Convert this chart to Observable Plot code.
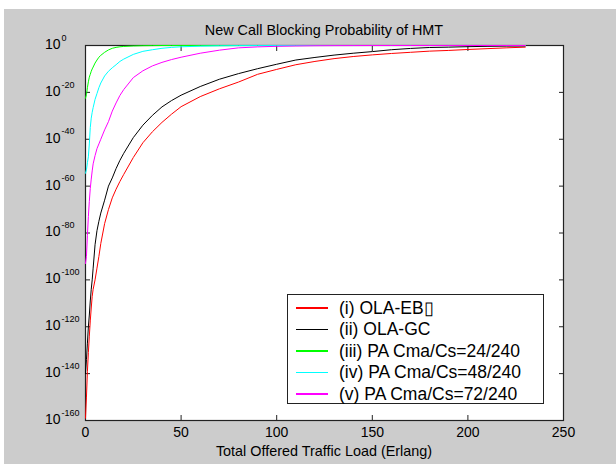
<!DOCTYPE html>
<html>
<head>
<meta charset="utf-8">
<script src="https://cdn.jsdelivr.net/npm/d3@7"></script>
<script src="https://cdn.jsdelivr.net/npm/@observablehq/plot@0.6"></script>
<style>
html, body { margin: 0; padding: 0; background: #ffffff; }
#fig { position: relative; width: 616px; height: 464px; overflow: hidden; font-family: "Liberation Sans", Arial, sans-serif; color: #000; }
#bg { position: absolute; left: 4px; top: 9px; right: 0; bottom: 0; background: #cccccc; }
#chart { position: absolute; left: 0; top: 0; }
#title, #xlabel { position: absolute; left: 85px; width: 478px; text-align: center; font-size: 14.4px; line-height: 14.4px; white-space: nowrap; }
#title { top: 23.4px; }
#xlabel { top: 443.8px; }
#legend { position: absolute; left: 287px; top: 294px; width: 257px; height: 110px; box-sizing: border-box; border: 1px solid #222; background: #fff; }
.entry { position: absolute; left: 0; height: 20px; width: 255px; }
.swatch { position: absolute; left: 8px; width: 32px; height: 1.5px; top: 9.5px; }
.ltext { position: absolute; left: 51px; top: 0; font-size: 17.5px; line-height: 20px; white-space: nowrap; }
</style>
</head>
<body>
<div id="fig">
  <div id="bg"></div>
  <div id="chart"></div>
  <div id="title"></div>
  <div id="xlabel"></div>
  <div id="legend"></div>
</div>
<script>
// ---- data (log10 of blocking probability) ----
const titleText = "New Call Blocking Probability of HMT";
const xLabelText = "Total Offered Traffic Load (Erlang)";
const seriesNames = ["(i) OLA-EB\u25AF", "(ii) OLA-GC", "(iii) PA Cma/Cs=24/240", "(iv) PA Cma/Cs=48/240", "(v) PA Cma/Cs=72/240"];
const seriesColors = ["#ff0000", "#000000", "#00ff00", "#00ffff", "#ff00ff"];
const xTicks = [0, 50, 100, 150, 200, 250];
const yTickExponents = [0, -20, -40, -60, -80, -100, -120, -140, -160];

const load = [0, 0.5, 1, 1.5, 2, 2.5, 3, 3.5, 4, 5, 6, 7, 8, 10, 12, 14, 16, 18, 20, 25, 30, 35, 40, 45, 50, 60, 70, 80, 90, 100, 110, 120, 130, 140, 150, 160, 170, 180, 190, 200, 210, 220, 230];

const logOlaEb = [-159, -150, -139, -131, -124, -117.5, -112, -107, -104, -100, -95, -90, -84.5, -76, -70, -65, -61.3, -58, -55, -47.8, -41.5, -36.8, -32.8, -29.3, -26.1, -21.8, -18.5, -15.6, -12.3, -10.2, -8.2, -6.8, -5.6, -4.7, -4.0, -3.4, -2.9, -2.4, -2.1, -1.7, -1.35, -1.0, -0.7];
const logOlaGc = [-140, -134, -127, -120, -115, -109, -104, -100, -95, -85, -79, -75, -71.5, -66, -60, -56.5, -52.5, -49, -46, -39.3, -34, -29.8, -26.2, -23.5, -21.2, -17.5, -14.4, -12, -9.9, -8, -6.2, -5.1, -4.1, -3.3, -2.6, -1.8, -1.25, -0.85, -0.7, -0.5, -0.35, -0.25, -0.2];
const logPa24 = [-22.5, -21, -18, -15.5, -13.5, -12.3, -11, -10, -9.2, -7.5, -6.2, -5, -4.2, -2.9, -1.9, -1.2, -0.8, -0.55, -0.4, -0.2, -0.1, -0.05, 0, 0, 0, 0, 0, 0, 0, 0, 0, 0, 0, 0, 0, 0, 0, 0, 0, 0, 0, 0, 0];
const logPa48 = [-54.5, -53, -50, -47.5, -42, -35, -31, -28.5, -26.5, -23, -20.5, -18, -16, -13, -11, -9.5, -8.2, -6.8, -5.8, -3.8, -2.5, -1.8, -1.2, -0.8, -0.55, -0.3, -0.15, -0.07, -0.03, 0, 0, 0, 0, 0, 0, 0, 0, 0, 0, 0, 0, 0, 0];
const logPa72 = [-93, -90, -81, -73, -66.5, -61, -57, -53.5, -50.5, -47, -44, -42, -40, -36, -32.5, -28, -24.5, -21.3, -18.8, -13.7, -10.8, -8.7, -7.2, -6, -5, -3.3, -2.0, -1.0, -0.6, -0.35, -0.2, -0.1, -0.05, -0.03, 0, 0, 0, 0, 0, 0, 0, 0, 0];

const seriesLogs = [logOlaEb, logOlaGc, logPa24, logPa48, logPa72];

// ---- build table ----
const rows = [];
seriesNames.forEach((name, si) => {
  load.forEach((x, i) => rows.push({series: name, load: x, p: Math.pow(10, seriesLogs[si][i])}));
});
const yTicks = yTickExponents.map(e => Math.pow(10, e));
const expOf = d => String(Math.round(Math.log10(d)));

const chart = Plot.plot({
  width: 616,
  height: 464,
  marginLeft: 85,
  marginRight: 53,
  marginTop: 45,
  marginBottom: 44,
  style: {background: "transparent", fontFamily: "'Liberation Sans', Arial, sans-serif", color: "#000", overflow: "visible"},
  x: {domain: [0, 250]},
  y: {type: "log", domain: [1e-160, 1]},
  color: {domain: seriesNames, range: seriesColors},
  marks: [
    Plot.frame({fill: "#ffffff", stroke: null}),
    Plot.axisX({anchor: "bottom", ticks: xTicks, tickSize: -5, tickPadding: 11.7, fontSize: 14, label: null, stroke: "#222"}),
    Plot.axisX({anchor: "top", ticks: xTicks, tickSize: -5, tickFormat: () => "", label: null, stroke: "#222"}),
    Plot.axisY({anchor: "left", ticks: yTicks, tickSize: -5, tickFormat: () => "", label: null, stroke: "#222"}),
    Plot.axisY({anchor: "right", ticks: yTicks, tickSize: -5, tickFormat: () => "", label: null, stroke: "#222"}),
    Plot.axisY({anchor: "left", ticks: yTicks, tickSize: 0, tickPadding: 25, tickFormat: () => "10", fontSize: 14, dy: -1, label: null}),
    Plot.axisY({anchor: "left", ticks: yTicks, tickSize: 0, tickPadding: 24, textAnchor: "start", tickFormat: expOf, fontSize: 9, dy: -7.7, label: null}),
    Plot.frame({stroke: "#222", strokeWidth: 1.2}),
    Plot.line(rows, {x: "load", y: "p", z: "series", stroke: "series", strokeWidth: 1})
  ]
});
document.getElementById("chart").appendChild(chart);
document.getElementById("title").textContent = titleText;
document.getElementById("xlabel").textContent = xLabelText;

const legend = document.getElementById("legend");
seriesNames.forEach((name, i) => {
  const e = document.createElement("div");
  e.className = "entry";
  e.style.top = (2.5 + i * 21.5) + "px";
  const sw = document.createElement("span");
  sw.className = "swatch";
  sw.style.background = seriesColors[i];
  const t = document.createElement("span");
  t.className = "ltext";
  t.textContent = name;
  e.appendChild(sw);
  e.appendChild(t);
  legend.appendChild(e);
});
</script>
</body>
</html>
